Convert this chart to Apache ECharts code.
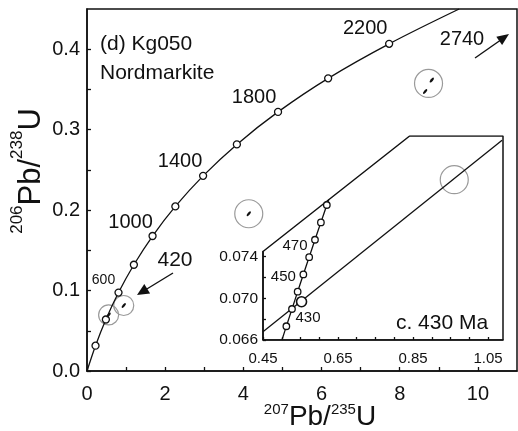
<!DOCTYPE html>
<html>
<head>
<meta charset="utf-8">
<script src="https://cdn.jsdelivr.net/npm/echarts@6/dist/echarts.min.js"></script>
<style>html,body{margin:0;padding:0;background:#fff}</style>
</head>
<body>
<div id="chart" style="width:518px;height:431px"></div>
<script>
    // concordia marks (Ma) and their ratios, main plot
    var concAges = [200, 400, 600, 800, 1000, 1200, 1400, 1600, 1800, 2000, 2200];
    var concX = [0.218, 0.483, 0.806, 1.199, 1.677, 2.260, 2.970, 3.834, 4.887, 6.169, 7.729];
    var concY = [0.0315, 0.0640, 0.0975, 0.1321, 0.1678, 0.2046, 0.2426, 0.2817, 0.3221, 0.3638, 0.4067];
    var concStart = [0, 0];
    var concEnd = [9.52, 0.45];

    // concordia marks in the inset
    var insetAges = [420, 430, 440, 450, 460, 470, 480, 490];
    var insetX = [0.5123, 0.5273, 0.5424, 0.5576, 0.5731, 0.5886, 0.6044, 0.6202];
    var insetY = [0.06732, 0.06898, 0.07064, 0.07230, 0.07396, 0.07563, 0.07730, 0.07897];
    var insetStart = [0.5005, 0.066];
    var insetEnd = [0.6255, 0.0795];

    // zircon analyses (small error ellipses) and the grey rings around them
    var grainX = [0.553, 0.94, 4.138, 8.82, 8.65];
    var grainY = [0.0697, 0.0814, 0.1955, 0.3616, 0.3475];
    var ringSmallX = [0.553, 0.94];
    var ringSmallY = [0.0697, 0.0814];
    var ringBigX = [4.138, 8.737];
    var ringBigY = [0.1955, 0.3575];

    // inset: frame outline, discordia, intercept and ring
    var frameX = [0.45, 1.09, 1.09, 0.841, 0.45, 0.45];
    var frameY = [0.066, 0.066, 0.0856, 0.0856, 0.0745, 0.066];
    var discX = [0.45, 1.0875];
    var discY = [0.0668, 0.0852];
    var interceptX = [0.5528];
    var interceptY = [0.06968];
    var insetRingX = [0.96];
    var insetRingY = [0.0814];

    // ticks
    var xTickLabels = [0, 2, 4, 6, 8, 10];
    var xTickMarks = [0, 1, 2, 3, 4, 5, 6, 7, 8, 9, 10];
    var yTickLabels = [0, 0.1, 0.2, 0.3, 0.4];
    var yTickMarks = [0, 0.05, 0.1, 0.15, 0.2, 0.25, 0.3, 0.35, 0.4];
    var insetXTickLabels = [0.45, 0.65, 0.85, 1.05];
    var insetXTickMarks = [0.45, 0.5, 0.55, 0.6, 0.65, 0.7, 0.75, 0.8, 0.85, 0.9, 0.95, 1.0, 1.05];
    var insetYTickLabels = [0.066, 0.070, 0.074];
    var insetYTickMarks = [0.066, 0.068, 0.070, 0.072, 0.074];

    var FONT = "'Liberation Sans', Arial, sans-serif";

    var zip = function (xs, ys) {
        var res = [];
        for (var i = 0; i < xs.length; i++) res.push([xs[i], ys[i]]);
        return res;
    };

    // where the age labels go relative to their marker
    var mainLabelPos = {
        600: { offset: [-15, -12], fontSize: 14 },
        1000: { offset: [-22, -14], fontSize: 20 },
        1400: { offset: [-23, -14], fontSize: 20 },
        1800: { offset: [-24, -14], fontSize: 20 },
        2200: { offset: [-24, -15], fontSize: 20 }
    };
    var insetLabelPos = {
        430: { offset: [16, 9], fontSize: 15 },
        450: { offset: [-20, 2], fontSize: 15 },
        470: { offset: [-20, 6], fontSize: 15 }
    };

    var markerData = function (xs, ys, ages, pos) {
        var res = [];
        for (var i = 0; i < xs.length; i++) {
            var p = pos[ages[i]];
            var item = { value: [xs[i], ys[i]] };
            if (p) {
                item.label = {
                    show: true, position: 'inside', offset: p.offset,
                    formatter: String(ages[i]), fontSize: p.fontSize,
                    color: '#111', textBorderWidth: 0, fontFamily: FONT
                };
            }
            res.push(item);
        }
        return res;
    };

    // inset geometry (pixels); the axis grid only spans the straight part of the left edge
    var inL = 263, inT = 136, inW = 240, inH = 204;
    var inYMin = 0.066, inYMax = 0.0856, inEdge = 0.0745;
    var axT = inT + inH * (inYMax - inEdge) / (inYMax - inYMin);

    var chart = echarts.init(document.getElementById('chart'));

    var tickStyle = { color: '#111', width: 1.3 };
    var ring = { color: 'rgba(0,0,0,0)', borderColor: '#9a9a9a', borderWidth: 1.2, opacity: 1 };
    var marker = { color: '#fff', borderColor: '#111', borderWidth: 1.3, opacity: 1 };

    var option = {
        animation: false,
        backgroundColor: '#fff',
        grid: [
            { left: 87, top: 9, width: 430, height: 362, show: true, borderColor: '#111', borderWidth: 1.5 },
            { left: inL, top: inT, width: inW, height: inH },
            { left: inL, top: axT, width: inW, height: inT + inH - axT }
        ],
        xAxis: [
            {
                gridIndex: 0, type: 'value', min: 0, max: 11, interval: 1,
                axisLine: { lineStyle: { color: '#111', width: 1.5 } },
                axisTick: { inside: true, length: 4, lineStyle: tickStyle, customValues: xTickMarks },
                axisLabel: { customValues: xTickLabels, fontSize: 20, color: '#111', margin: 13, fontFamily: FONT },
                splitLine: { show: false }
            },
            { gridIndex: 1, type: 'value', min: 0.45, max: 1.09, show: false },
            {
                gridIndex: 2, type: 'value', min: 0.45, max: 1.09, interval: 0.05, z: 3,
                axisLine: { lineStyle: { color: '#111', width: 1.5 } },
                axisTick: { inside: true, length: 3, lineStyle: tickStyle, customValues: insetXTickMarks },
                axisLabel: {
                    customValues: insetXTickLabels, fontSize: 15, color: '#111', margin: 11, fontFamily: FONT,
                    formatter: function (v) { return v.toFixed(2); }
                },
                splitLine: { show: false }
            }
        ],
        yAxis: [
            {
                gridIndex: 0, type: 'value', min: 0, max: 0.45, interval: 0.05,
                axisLine: { lineStyle: { color: '#111', width: 1.5 } },
                axisTick: { inside: true, length: 4, lineStyle: tickStyle, customValues: yTickMarks },
                axisLabel: {
                    customValues: yTickLabels, fontSize: 20, color: '#111', margin: 7, fontFamily: FONT,
                    formatter: function (v) { return v.toFixed(1); }
                },
                splitLine: { show: false }
            },
            { gridIndex: 1, type: 'value', min: inYMin, max: inYMax, show: false },
            {
                gridIndex: 2, type: 'value', min: inYMin, max: inEdge, interval: 0.002, z: 3,
                axisLine: { lineStyle: { color: '#111', width: 1.5 } },
                axisTick: { inside: true, length: 3, lineStyle: tickStyle, customValues: insetYTickMarks },
                axisLabel: {
                    customValues: insetYTickLabels, fontSize: 15.5, color: '#111', margin: 5, fontFamily: FONT,
                    formatter: function (v) { return v.toFixed(3); }
                },
                splitLine: { show: false }
            }
        ],
        series: [
            {
                type: 'line', xAxisIndex: 0, yAxisIndex: 0, symbol: 'none', smooth: 0.35,
                lineStyle: { color: '#111', width: 1.3 },
                data: [concStart].concat(zip(concX, concY), [concEnd])
            },
            {
                type: 'scatter', xAxisIndex: 0, yAxisIndex: 0, symbol: 'circle', symbolSize: 7,
                itemStyle: marker,
                data: markerData(concX, concY, concAges, mainLabelPos), z: 4
            },
            {
                type: 'scatter', xAxisIndex: 0, yAxisIndex: 0, symbol: 'circle', symbolSize: 20,
                itemStyle: ring,
                data: zip(ringSmallX, ringSmallY)
            },
            {
                type: 'scatter', xAxisIndex: 0, yAxisIndex: 0, symbol: 'circle', symbolSize: 28,
                itemStyle: ring,
                data: zip(ringBigX, ringBigY)
            },
            {
                type: 'scatter', xAxisIndex: 0, yAxisIndex: 0, symbol: 'circle', symbolSize: [6, 2.4], symbolRotate: 50,
                itemStyle: { color: '#111', opacity: 1 },
                data: zip(grainX, grainY), z: 5
            },
            // inset
            {
                type: 'line', xAxisIndex: 1, yAxisIndex: 1, symbol: 'none',
                lineStyle: { color: '#111', width: 1.5 },
                data: zip(frameX, frameY)
            },
            {
                type: 'line', xAxisIndex: 1, yAxisIndex: 1, symbol: 'none',
                lineStyle: { color: '#111', width: 1.3 },
                data: zip(discX, discY)
            },
            {
                type: 'line', xAxisIndex: 1, yAxisIndex: 1, symbol: 'none', smooth: 0.35,
                lineStyle: { color: '#111', width: 1.3 },
                data: [insetStart].concat(zip(insetX, insetY), [insetEnd])
            },
            {
                type: 'scatter', xAxisIndex: 1, yAxisIndex: 1, symbol: 'circle', symbolSize: 6.5,
                itemStyle: marker,
                data: markerData(insetX, insetY, insetAges, insetLabelPos), z: 4
            },
            {
                type: 'scatter', xAxisIndex: 1, yAxisIndex: 1, symbol: 'circle', symbolSize: 10,
                itemStyle: { color: '#fff', borderColor: '#111', borderWidth: 1.6, opacity: 1 },
                data: zip(interceptX, interceptY), z: 5
            },
            {
                type: 'scatter', xAxisIndex: 1, yAxisIndex: 1, symbol: 'circle', symbolSize: 28,
                itemStyle: ring,
                data: zip(insetRingX, insetRingY)
            }
        ],
        graphic: [
            { type: 'text', left: 100, top: 34, style: { text: '(d) Kg050', fontSize: 21, fill: '#111', fontFamily: FONT } },
            { type: 'text', left: 100, top: 63, style: { text: 'Nordmarkite', fontSize: 21, fill: '#111', fontFamily: FONT } },
            { type: 'text', x: 175, y: 260, style: { text: '420', fontSize: 21, fill: '#111', fontFamily: FONT, align: 'center', verticalAlign: 'middle' } },
            { type: 'text', x: 462, y: 39, style: { text: '2740', fontSize: 20, fill: '#111', fontFamily: FONT, align: 'center', verticalAlign: 'middle' } },
            { type: 'text', x: 442, y: 323, style: { text: 'c. 430 Ma', fontSize: 21, fill: '#111', fontFamily: FONT, align: 'center', verticalAlign: 'middle' } },
            { type: 'line', shape: { x1: 173, y1: 273, x2: 146, y2: 289.5 }, style: { stroke: '#111', lineWidth: 1.4 } },
            { type: 'polygon', shape: { points: [[137, 295], [150.1, 293.4], [144.3, 284]] }, style: { fill: '#111' } },
            { type: 'line', shape: { x1: 475, y1: 58, x2: 500, y2: 40.5 }, style: { stroke: '#111', lineWidth: 1.4 } },
            { type: 'polygon', shape: { points: [[509, 34], [502.1, 45], [496.3, 36.8]] }, style: { fill: '#111' } },
            {
                type: 'text', x: 320, y: 417,
                style: {
                    text: '{s|207}{m|Pb/}{s|235}{m|U}', align: 'center', verticalAlign: 'middle', fill: '#111',
                    fontFamily: FONT,
                    rich: {
                        s: { fontSize: 15, lineHeight: 25, verticalAlign: 'top', fontFamily: FONT, fill: '#111' },
                        m: { fontSize: 28, lineHeight: 30, fontFamily: FONT, fill: '#111' }
                    }
                }
            },
            {
                type: 'text', x: 31, y: 171, rotation: Math.PI / 2,
                style: {
                    text: '{s|206}{m|Pb/}{s|238}{m|U}', align: 'center', verticalAlign: 'middle', fill: '#111',
                    fontFamily: FONT,
                    rich: {
                        s: { fontSize: 17, lineHeight: 17, verticalAlign: 'top', fontFamily: FONT, fill: '#111' },
                        m: { fontSize: 31, lineHeight: 44, fontFamily: FONT, fill: '#111' }
                    }
                }
            }
        ]
    };
    chart.setOption(option);
</script>
</body>
</html>
